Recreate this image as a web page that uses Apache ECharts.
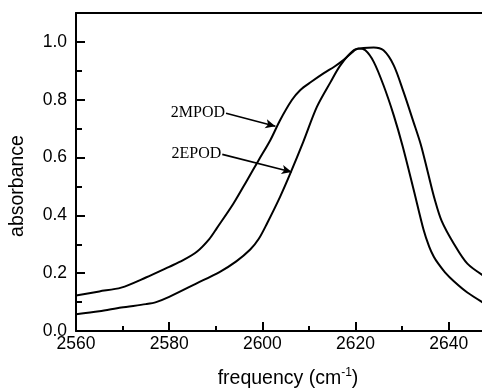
<!DOCTYPE html>
<html>
<head>
<meta charset="utf-8">
<script src="https://cdn.jsdelivr.net/npm/echarts@6/dist/echarts.min.js"></script>
<style>html,body{margin:0;padding:0;background:#fff;}#c{width:482px;height:388px;}</style>
</head>
<body>
<div id="c"></div>
<script>
// 2MPOD spectrum
const mpodX = [2560, 2565, 2569.7, 2575, 2580, 2583, 2586, 2588.6, 2590.2, 2593.8, 2596.7, 2599.2, 2601.7, 2603.8, 2606.3, 2608.1, 2610.5, 2613.2, 2615.5, 2617.4, 2619.2, 2620.6, 2622.1, 2623.9, 2626.0, 2628.2, 2630.1, 2632.5, 2634.6, 2635.8, 2636.8, 2637.8, 2639.2, 2641.1, 2644.0, 2648];
const mpodY = [0.123, 0.137, 0.150, 0.185, 0.222, 0.245, 0.275, 0.318, 0.355, 0.441, 0.521, 0.591, 0.660, 0.729, 0.798, 0.833, 0.862, 0.892, 0.915, 0.937, 0.963, 0.977, 0.971, 0.931, 0.850, 0.746, 0.640, 0.487, 0.350, 0.292, 0.257, 0.232, 0.203, 0.172, 0.133, 0.092];
// 2EPOD spectrum
const epodX = [2560, 2565, 2569.7, 2575, 2577.2, 2580, 2585.8, 2590.8, 2594.4, 2597.4, 2599.2, 2601.0, 2603.8, 2606.0, 2608.8, 2611.7, 2614.6, 2616.7, 2619.6, 2621.7, 2623.9, 2626.0, 2628.2, 2630.3, 2632.5, 2634.0, 2635.5, 2637.0, 2638.5, 2641.1, 2644.0, 2648];
const epodY = [0.058, 0.068, 0.081, 0.093, 0.100, 0.118, 0.164, 0.204, 0.241, 0.282, 0.318, 0.372, 0.464, 0.545, 0.655, 0.775, 0.860, 0.918, 0.971, 0.979, 0.981, 0.971, 0.919, 0.827, 0.720, 0.645, 0.550, 0.455, 0.380, 0.302, 0.233, 0.186];
// axis ticks
const xTicks = [2560, 2580, 2600, 2620, 2640];
const yTicks = [0.0, 0.2, 0.4, 0.6, 0.8, 1.0];
// annotation arrows: [label, startX, startY, tipX, tipY]
const annotations = [
  ['2MPOD', 2592.2, 0.753, 2602.8, 0.708],
  ['2EPOD', 2591.4, 0.611, 2606.3, 0.550]
];

const toPairs = (xs, ys) => xs.map((x, i) => [x, ys[i]]);
const font = 'Liberation Sans, Arial, sans-serif';

function arrowLine(a) {
  return {
    silent: true,
    symbol: ['none', 'arrow'],
    symbolSize: [7, 10],
    lineStyle: {color: '#000', width: 1.6, type: 'solid'},
    label: {show: true, position: 'start', formatter: a[0], color: '#000',
            fontFamily: 'Liberation Serif, Times New Roman, serif', fontSize: 16, distance: 1},
    data: [[{coord: [a[1], a[2]]}, {coord: [a[3], a[4]]}]]
  };
}

const chart = echarts.init(document.getElementById('c'), null, {renderer: 'canvas'});
chart.setOption({
  animation: false,
  backgroundColor: '#fff',
  grid: {left: 76, right: -4, top: 13, bottom: 57, containLabel: false, outerBoundsMode: 'none'},
  xAxis: [{
    type: 'value', min: 2560, max: 2648, interval: 20,
    name: 'frequency (cm{sup|-1})', nameLocation: 'middle', nameGap: 36,
    nameTextStyle: {color: '#000', fontFamily: font, fontSize: 19.5, padding: [0, 0, 0, 14],
      rich: {sup: {fontFamily: font, fontSize: 12, verticalAlign: 'top', padding: [0, 0, 11, 0], color: '#000'}}},
    axisLine: {show: true, lineStyle: {color: '#000', width: 2}},
    axisTick: {show: true, inside: true, length: 9, lineStyle: {color: '#000', width: 2}},
    minorTick: {show: true, splitNumber: 2, length: 5, lineStyle: {color: '#000', width: 2}},
    splitLine: {show: false},
    axisLabel: {color: '#000', fontFamily: font, fontSize: 17.5, margin: 4,
      formatter: v => xTicks.includes(v) ? String(v) : ''}
  }, {
    type: 'value', position: 'top', min: 2560, max: 2648,
    axisLine: {show: true, onZero: false, lineStyle: {color: '#000', width: 2}},
    axisTick: {show: false}, axisLabel: {show: false}, splitLine: {show: false}
  }],
  yAxis: {
    type: 'value', min: 0, max: 1.1, interval: 0.2,
    name: 'absorbance', nameLocation: 'middle', nameGap: 48,
    nameTextStyle: {color: '#000', fontFamily: font, fontSize: 19.5, padding: [0, 28, 0, 0]},
    axisLine: {show: true, lineStyle: {color: '#000', width: 2}},
    axisTick: {show: true, inside: true, length: 9, lineStyle: {color: '#000', width: 2}},
    minorTick: {show: true, splitNumber: 2, length: 6, lineStyle: {color: '#000', width: 2}},
    splitLine: {show: false},
    axisLabel: {color: '#000', fontFamily: font, fontSize: 17.5, margin: 9,
      formatter: v => yTicks.some(t => Math.abs(t - v) < 1e-6) ? v.toFixed(1) : ''}
  },
  series: [{
    name: '2MPOD', type: 'line', smooth: 0.3, showSymbol: false, clip: true,
    data: toPairs(mpodX, mpodY),
    lineStyle: {color: '#000', width: 2},
    markLine: arrowLine(annotations[0])
  }, {
    name: '2EPOD', type: 'line', smooth: 0.3, showSymbol: false, clip: true,
    data: toPairs(epodX, epodY),
    lineStyle: {color: '#000', width: 2},
    markLine: arrowLine(annotations[1])
  }]
});
</script>
</body>
</html>
